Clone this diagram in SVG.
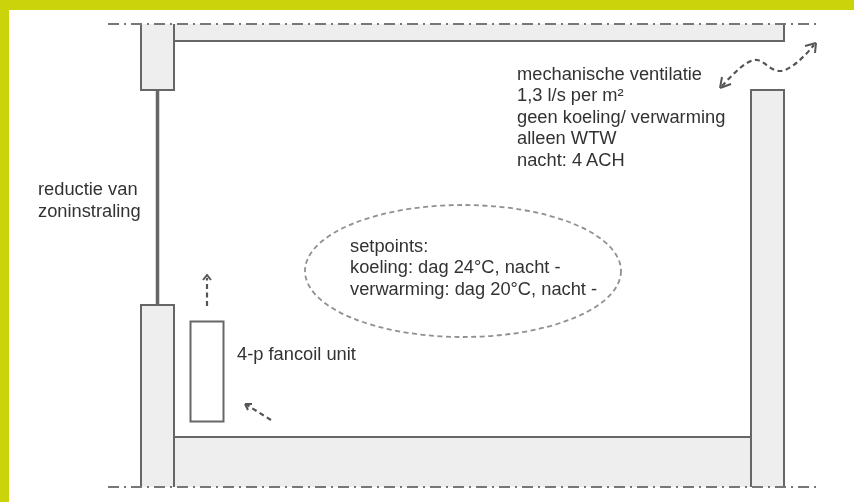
<svg xmlns="http://www.w3.org/2000/svg" width="854" height="502" viewBox="0 0 854 502">
<defs><filter id="soft" filterUnits="userSpaceOnUse" x="0" y="0" width="854" height="502"><feGaussianBlur stdDeviation="0.7"/></filter></defs>
<style>
.wall{fill:#eeeeee;stroke:#666666;stroke-width:2}
.axis{fill:none;stroke:#777777;stroke-width:2.200;stroke-dasharray:11 5 2 5}
.dash{fill:none;stroke:#555555;stroke-width:2.200;stroke-dasharray:5 3.500}
.head{fill:none;stroke:#555555;stroke-width:2}
text{font-family:"Liberation Sans",Arial,sans-serif;font-size:18.300px;fill:#333333}
</style>
<rect width="854" height="502" fill="#fff"/>
<path d="M0 0H854V10H9V502H0Z" fill="#cbd40b"/>
<g filter="url(#soft)">
<g id="ceiling"><path class="wall" d="M174 24V41H784V24"/></g>
<g id="wall-top-left"><path class="wall" d="M141 24V90H174V24"/></g>
<g id="glazing"><path d="M157.500 90V305" fill="none" stroke="#666666" stroke-width="3.500"/></g>
<g id="wall-bottom-left"><path class="wall" d="M141 487V305H174V487"/></g>
<g id="floor"><path class="wall" d="M174 487V437H751V487"/></g>
<g id="wall-right"><path class="wall" d="M751 487V90H784V487"/></g>
<g id="fancoil"><rect x="190.500" y="321.500" width="33" height="100" fill="#fff" stroke="#666666" stroke-width="2"/><text x="237" y="360">4-p fancoil unit</text></g>
<g id="setpoints"><ellipse cx="463" cy="271" rx="158" ry="66" fill="none" stroke="#909090" stroke-width="1.800" stroke-dasharray="5 3.500"/><text x="350" y="252">setpoints:</text><text x="350" y="273">koeling: dag 24°C, nacht -</text><text x="350" y="295">verwarming: dag 20°C, nacht -</text></g>
<g id="ventilation"><text x="517" y="80">mechanische ventilatie</text><text x="517" y="101">1,3 l/s per m²</text><text x="517" y="123">geen koeling/ verwarming</text><text x="517" y="144">alleen WTW</text><text x="517" y="166">nacht: 4 ACH</text></g>
<g id="solar"><text x="38" y="195">reductie van</text><text x="38" y="217">zoninstraling</text></g>
<g id="connectors">
<path class="axis" d="M108 24H818"/>
<path class="axis" d="M108 487H818"/>
<path class="dash" d="M722 86C733 74 747 59 757 60C765 61 770 71 780 71C790 71 805 56 814 45"/>
<path class="head" d="M720 88L722 77M720 88L731 84"/>
<path class="head" d="M816 43L805 46M816 43L815 53"/>
<path class="dash" d="M207 306V278"/>
<path class="head" d="M203 280L207 275L211 280"/>
<path class="dash" d="M271 420L247 405"/>
<path class="head" d="M245 404L252 404M245 404L248 410"/>
</g>
</g>
</svg>
